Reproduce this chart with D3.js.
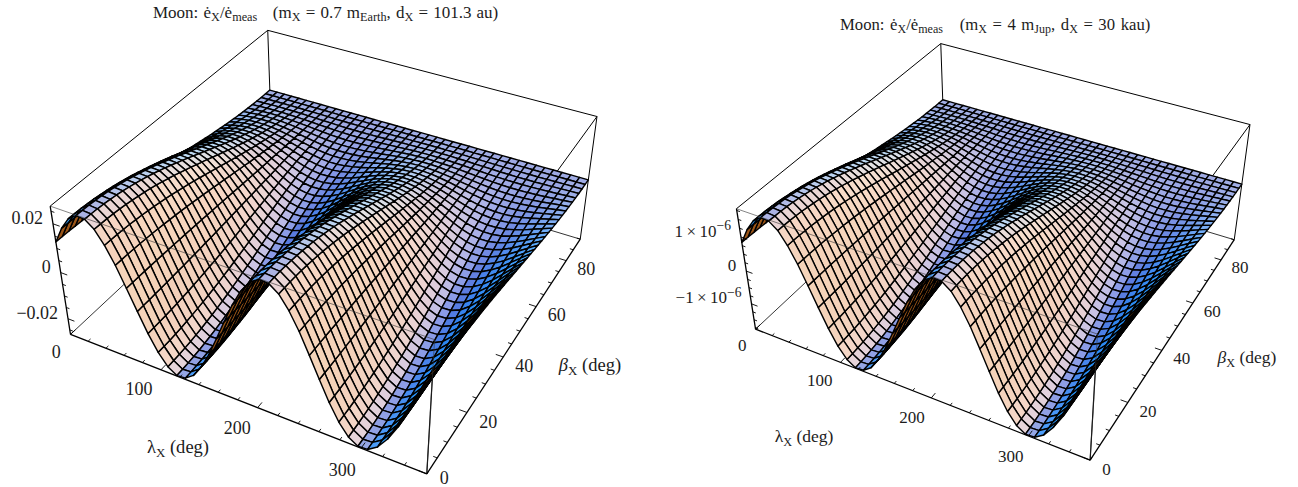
<!DOCTYPE html>
<html>
<head>
<meta charset="utf-8">
<script src="https://cdn.jsdelivr.net/npm/d3@7"></script>
<style>
  html, body { margin: 0; background: #fff; }
  svg { display: block; }
  text { font-family: "Liberation Serif", serif; fill: #1c1c1c; }
</style>
</head>
<body>
<svg id="chart" width="1298" height="487"></svg>
<script>
// ── Data ─────────────────────────────────────────────────────
const lambdaGrid = d3.range(0, 361, 9);
const betaGrid = d3.range(0, 41).map(i => i * 2.25);

// height of the surface along lambda at beta = 0, as a share of the peak
const lambdaShape = [
  0.47, 0.72, 0.90, 0.99, 0.98, 0.88, 0.69, 0.44, 0.14, -0.17,
  -0.47, -0.72, -0.90, -0.99, -0.98, -0.88, -0.69, -0.44, -0.14, 0.17,
  0.47, 0.72, 0.90, 0.99, 0.98, 0.88, 0.69, 0.44, 0.14, -0.17,
  -0.47, -0.72, -0.90, -0.99, -0.98, -0.88, -0.69, -0.44, -0.14, 0.17,
  0.47
];
// how much of that height is left at each beta
const betaFalloff = [
  1, 0.998, 0.994, 0.986, 0.976, 0.962, 0.945, 0.926, 0.905, 0.880,
  0.854, 0.825, 0.794, 0.762, 0.727, 0.691, 0.655, 0.617, 0.578, 0.539,
  0.5, 0.461, 0.422, 0.383, 0.345, 0.309, 0.273, 0.238, 0.206, 0.175,
  0.146, 0.120, 0.095, 0.074, 0.055, 0.038, 0.024, 0.014, 0.006, 0.002,
  0
];

const lambdaTicks = [0, 100, 200, 300];
const betaTicks = [0, 20, 40, 60, 80];

const peakLeft = 0.027;
const zTicksLeft = [0.02, 0, -0.02];
const zTickLabelsLeft = ["0.02", "0", "\u22120.02"];

const peakRight = 1.8e-6;
const zTicksRight = [1e-6, 0, -1e-6];
const zTickLabelsRight = ["1\u2009\u00d7\u200910|\u22126", "0", "\u22121\u2009\u00d7\u200910|\u22126"];

// ── Camera (unit box 1 x 1 x 0.4, seen from {1.3, -2.4, 2}) ──
const VIEW = [1.3, -2.4, 2];
const dist = Math.hypot(...VIEW);
const W = VIEW.map(v => v / dist);
const rl = Math.hypot(W[0], W[1]);
const R = [-W[1] / rl, W[0] / rl, 0];
const U = [W[1] * R[2] - W[2] * R[1], W[2] * R[0] - W[0] * R[2], W[0] * R[1] - W[1] * R[0]];
const dot = (a, b) => a[0] * b[0] + a[1] * b[1] + a[2] * b[2];
const sub = (a, b) => [a[0] - b[0], a[1] - b[1], a[2] - b[2]];
const cross = (a, b) => [a[1] * b[2] - a[2] * b[1], a[2] * b[0] - a[0] * b[2], a[0] * b[1] - a[1] * b[0]];

// colour of a cell from its normal in screen space, fitted to the picture
function shade(n) {
  const len = Math.hypot(...n);
  const vx = dot(n, R) / len, vy = dot(n, U) / len, vz = dot(n, W) / len;
  if (vz < 0) return "#9a5518";          // underside of the sheet
  const bump = Math.max(0, vz - 0.6) / 0.4;   // cells facing the viewer are paler
  return d3.rgb(
    119 + 147.8 * vx + 46.3 * vy + 6 * vz + 33 * bump,
    192 + 97.7 * vx + 54.1 * vy - 107.8 * vz + 73 * bump,
    215 - 4.7 * vx + 52 * vy - 48.6 * vz + 48 * bump
  ).formatHex();
}

const svg = d3.select("#chart");
const poly = d3.line().curve(d3.curveLinearClosed);

function drawPanel(cfg) {
  const g = svg.append("g");
  const x = d3.scaleLinear().domain([0, 360]).range([-0.5, 0.5]);
  const y = d3.scaleLinear().domain([0, 90]).range([-0.5, 0.5]);
  const z = d3.scaleLinear().domain([-cfg.peak, cfg.peak]).range([-0.2, 0.2]);

  const project = p => {
    const depth = dist - dot(p, W);
    return [cfg.cx + cfg.scale * dot(p, R) / depth, cfg.cy - cfg.scale * dot(p, U) / depth];
  };
  const edge = (a, b, width, color) => g.append("path")
    .attr("d", d3.line()([project(a), project(b)]))
    .attr("fill", "none").attr("stroke", color || "#000").attr("stroke-width", width);

  const lo = -0.2, hi = 0.2, a = -0.5, b = 0.5;

  // back edges of the box, under the surface
  edge([a, a, hi], [a, b, hi], 1);
  edge([a, b, hi], [b, b, hi], 1);
  edge([a, b, hi], [a, b, lo], 1);
  edge([b, b, hi], [b, b, lo], 1);
  edge([b, b, hi], [b, a, hi], 1);
  edge([a, a, lo], [a, b, lo], 0.8);
  edge([a, b, lo], [b, b, lo], 0.8);
  edge([b, a, lo], [b, a, hi], 1.2);

  // surface, far cells first
  const pts = lambdaGrid.map((l, i) => betaGrid.map((be, j) =>
    [x(l), y(be), z(cfg.peak * lambdaShape[i] * betaFalloff[j])]));
  const cells = [];
  for (let i = 0; i < lambdaGrid.length - 1; i++) {
    for (let j = 0; j < betaGrid.length - 1; j++) {
      const q = [pts[i][j], pts[i + 1][j], pts[i + 1][j + 1], pts[i][j + 1]];
      const mid = [0, 1, 2].map(k => d3.mean(q, c => c[k]));
      cells.push({
        q,
        depth: dot(mid, W),
        n: cross(sub(q[2], q[0]), sub(q[3], q[1]))
      });
    }
  }
  cells.sort((m, n) => m.depth - n.depth);
  g.append("g").selectAll("path").data(cells).join("path")
    .attr("d", d => poly(d.q.map(project)))
    .attr("fill", d => shade(d.n))
    .attr("stroke", "#000")
    .attr("stroke-width", cfg.mesh)
    .attr("stroke-linejoin", "round");

  // front edges: the top ones only show faintly through the sheet
  edge([a, a, hi], [b, a, hi], 0.6, "#333");
  edge([b, a, lo], [b, a, hi], 0.6, "#333");

  // axes
  edge([a, a, lo], [b, a, lo], 1.3);
  edge([b, a, lo], [b, b, lo], 1.3);
  edge([a, a, lo], [a, a, hi], 1.3);

  d3.range(0, 361, 20).forEach(v => {
    const major = v % 100 === 0;
    edge([x(v), a, lo], [x(v), a + (major ? 0.02 : 0.01), lo], 0.9);
  });
  d3.range(0, 91, 5).forEach(v => {
    const major = v % 20 === 0;
    edge([b, y(v), lo], [b - (major ? 0.02 : 0.01), y(v), lo], 0.9);
  });
  d3.range(-cfg.peak, cfg.peak, cfg.minorZ).forEach((_, i) => {
    const v = Math.ceil(-cfg.peak / cfg.minorZ + i) * cfg.minorZ;
    const major = cfg.zTicks.some(t => Math.abs(t - v) < cfg.minorZ / 10);
    if (z(v) > hi) return;
    edge([a, a, z(v)], [a + (major ? 0.02 : 0.01), a, z(v)], 0.9);
  });

  const label = (pos, txt, anchor) => g.append("text")
    .attr("x", pos[0]).attr("y", pos[1])
    .attr("text-anchor", anchor || "middle")
    .attr("dominant-baseline", "central")
    .attr("font-size", cfg.font)
    .text(txt);

  lambdaTicks.forEach(v => label(project([x(v) + 0.021, a - 0.066, lo]), v, "end"));
  betaTicks.forEach(v => {
    const p = project([b + 0.032, y(v), lo]);
    label([p[0], Math.min(p[1] + 4.5, 478)], v, "start");
  });

  cfg.zTicks.forEach((v, i) => {
    const p = project([a, a, z(v)]);
    const parts = cfg.zLabels[i].split("|");
    const t = label([p[0] - 10, p[1] - 6], parts[0], "end");
    if (parts[1]) {
      t.append("tspan").attr("dy", -6).attr("font-size", cfg.font * 0.8).text(parts[1]);
    }
  });

  // axis titles
  const lam = g.append("text").attr("x", cfg.lamTitle[0]).attr("y", cfg.lamTitle[1])
    .attr("text-anchor", "middle").attr("font-size", cfg.font * 1.03);
  lam.append("tspan").text("\u03bb");
  lam.append("tspan").attr("dy", 4).attr("font-size", cfg.font * 0.72).text("X");
  lam.append("tspan").attr("dy", -4).text(" (deg)");

  const bet = g.append("text").attr("x", cfg.betTitle[0]).attr("y", cfg.betTitle[1])
    .attr("text-anchor", "middle").attr("font-size", cfg.font * 1.03);
  bet.append("tspan").attr("font-style", "italic").text("\u03b2");
  bet.append("tspan").attr("dy", 4).attr("font-size", cfg.font * 0.72).text("X");
  bet.append("tspan").attr("dy", -4).text(" (deg)");

  // title with subscripts
  const title = g.append("text").attr("x", cfg.title[0]).attr("y", cfg.title[1])
    .attr("font-size", cfg.titleFont).attr("word-spacing", cfg.titleGap);
  let wasSub = false;
  cfg.titleParts.forEach(part => {
    const isSub = part[0] === "_";
    title.append("tspan")
      .attr("dy", isSub ? 3 : (wasSub ? -3 : 0))
      .attr("font-size", isSub ? cfg.titleFont * 0.72 : cfg.titleFont)
      .text(isSub ? part.slice(1) : part);
    wasSub = isSub;
  });
}

drawPanel({
  peak: peakLeft, zTicks: zTicksLeft, zLabels: zTickLabelsLeft, minorZ: 0.005,
  scale: 1314, cx: 337.2, cy: 224, mesh: 1.45, font: 18, titleFont: 17, titleGap: 0.9,
  lamTitle: [178, 453], betTitle: [590, 371], title: [153, 18],
  titleParts: ["Moon: \u0117", "_X", "/\u0117", "_meas", "\u00a0\u00a0\u00a0(m", "_X", " = 0.7 m", "_Earth", ", d", "_X", " = 101.3 au)"]
});

drawPanel({
  peak: peakRight, zTicks: zTicksRight, zLabels: zTickLabelsRight, minorZ: 2.5e-7,
  scale: 1234, cx: 1006, cy: 225.5, mesh: 1.4, font: 17, titleFont: 16.7, titleGap: 1.4,
  lamTitle: [804, 442], betTitle: [1247, 363], title: [840, 30],
  titleParts: ["Moon: \u0117", "_X", "/\u0117", "_meas", "\u00a0\u00a0\u00a0(m", "_X", " = 4 m", "_Jup", ", d", "_X", " = 30 kau)"]
});
</script>
</body>
</html>
